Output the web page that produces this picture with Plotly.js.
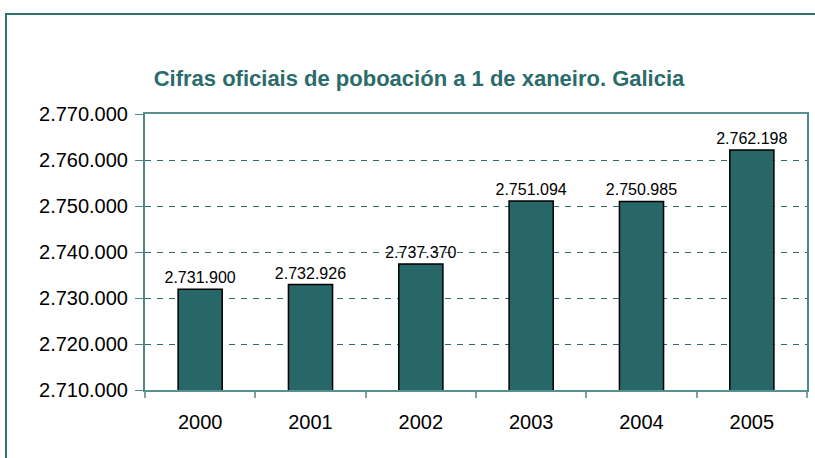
<!DOCTYPE html>
<html>
<head>
<meta charset="utf-8">
<script src="https://cdn.plot.ly/plotly-3.0.1.min.js"></script>
<style>
html,body{margin:0;padding:0;background:#fff;}
#chart{width:815px;height:458px;}
</style>
</head>
<body>
<div id="chart"></div>
<script>
const years = ['2000', '2001', '2002', '2003', '2004', '2005'];
const population = [2731900, 2732926, 2737370, 2751094, 2750985, 2762198];
const yTicks = [2710000, 2720000, 2730000, 2740000, 2750000, 2760000, 2770000];
const chartTitle = 'Cifras oficiais de poboación a 1 de xaneiro. Galicia';

const W = 815, H = 458;
const m = {l: 145, r: 8, t: 114, b: 68};
const pw = W - m.l - m.r, ph = H - m.t - m.b;
function px(x) { return (x - m.l) / pw; }
function py(y) { return (H - m.b - y) / ph; }

const trace = {
  type: 'bar',
  x: years,
  y: population,
  width: 0.4,
  marker: {color: '#276767', line: {color: '#000000', width: 1.5}},
  text: population,
  texttemplate: '%{y:,}',
  textposition: 'outside',
  constraintext: 'none',
  cliponaxis: false,
  textfont: {family: 'Liberation Sans, Arial, sans-serif', size: 16, color: '#000'},
  hoverinfo: 'skip'
};

const layout = {
  width: W, height: H,
  margin: m,
  paper_bgcolor: '#fff',
  plot_bgcolor: '#fff',
  separators: ',.',
  showlegend: false,
  font: {family: 'Liberation Sans, Arial, sans-serif', color: '#000'},
  title: {
    text: '<b>' + chartTitle + '</b>',
    font: {size: 22, color: '#2a6b6b', family: 'Liberation Sans, Arial, sans-serif'},
    x: 419 / W, xanchor: 'center',
    y: 1 - 78 / H, yanchor: 'middle'
  },
  xaxis: {
    type: 'category',
    showline: true, linecolor: '#5a8f8f', linewidth: 2, mirror: true,
    ticks: 'outside', tickson: 'boundaries', ticklen: 6, tickcolor: '#7aa3a3', tickwidth: 2,
    showgrid: false,
    ticklabelstandoff: 13,
    tickfont: {size: 20, color: '#000'},
    fixedrange: true
  },
  yaxis: {
    range: [2710000, 2770000],
    tickvals: yTicks,
    tickformat: ',d',
    showline: true, linecolor: '#4d8787', linewidth: 2, mirror: true,
    ticks: 'outside', ticklen: 8, tickcolor: '#4d8787', tickwidth: 1,
    showgrid: true, gridcolor: '#2b6f6f', gridwidth: 1, griddash: '6px,6px',
    zeroline: false,
    ticklabelstandoff: 3,
    tickfont: {size: 20, color: '#000'},
    fixedrange: true
  },
  shapes: [{
    type: 'rect', xref: 'paper', yref: 'paper',
    x0: px(6), x1: px(830), y0: py(480), y1: py(14),
    line: {color: '#2f7272', width: 2}, fillcolor: 'rgba(0,0,0,0)', layer: 'below'
  }]
};

Plotly.newPlot('chart', [trace], layout, {displayModeBar: false, staticPlot: true});
</script>
</body>
</html>
